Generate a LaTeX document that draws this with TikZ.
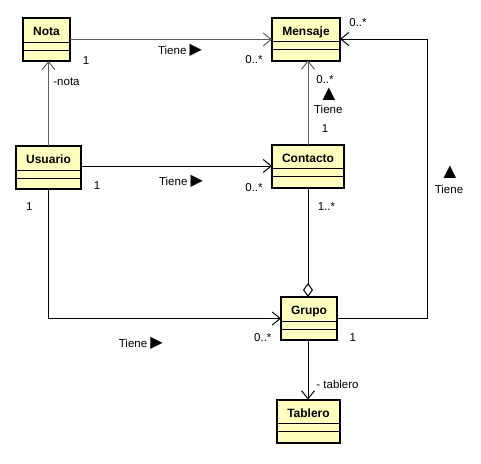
\documentclass[tikz,border=0pt]{standalone}
\usepackage{fontspec}
\setmainfont{Liberation Sans}
\newfontfamily\dejavu{DejaVu Sans}
\usetikzlibrary{arrows.meta}
\definecolor{umlfill}{HTML}{FFFFC0}
\definecolor{lgray}{HTML}{606060}
\newcommand\umlbox[5]{%
  \node[umlclass,minimum width=#4pt] (#1) at (#2,#3) {};
  \node[classname] (#1-t) at ([yshift=-17.5pt]#1.north) {#5};
  \draw[line width=1pt] ([yshift=-24pt]#1.north west) -- ([yshift=-24pt]#1.north east);
  \draw[line width=1pt] ([yshift=-32pt]#1.north west) -- ([yshift=-32pt]#1.north east);
}
\newcommand\rtri{{\dejavu\fontsize{16}{16}\selectfont ▶}}
\newcommand\utri{{\dejavu\fontsize{16.5}{16.5}\selectfont ▲}}
\begin{document}
\begin{tikzpicture}[x=1pt,y=-1pt,
  umlclass/.style={draw=black,line width=2pt,fill=umlfill,minimum height=43pt,inner sep=0pt,outer sep=0pt},
  classname/.style={anchor=base,inner sep=0pt,font=\fontsize{12}{14}\selectfont\bfseries},
  lbl/.style={anchor=base,inner sep=0pt,font=\fontsize{11.5}{13}\selectfont},
  assoc/.style={line width=1pt,-{Straight Barb[length=8pt,width=13pt,line width=1pt]}},
]
\useasboundingbox (0,0) rectangle (481,463);

\umlbox{nota}{46.5}{39.5}{47}{Nota}
\umlbox{mensaje}{306}{39}{68}{Mensaje}
\umlbox{usuario}{48.5}{167.5}{65}{Usuario}
\umlbox{contacto}{308}{166}{72}{Contacto}
\umlbox{grupo}{309}{318.5}{56}{Grupo}
\umlbox{tablero}{308.5}{421}{63}{Tablero}

\coordinate (rc) at (427.3,0);

% connectors
\draw[assoc,draw=lgray] (nota.east) -- (nota.east -| mensaje.west);
\draw[assoc,draw=lgray] (usuario.north) -- (usuario.north |- nota.south);
\draw[assoc] (contacto.west -| usuario.east) -- (contacto.west);
\draw[assoc,draw=lgray] (contacto.north) -- (contacto.north |- mensaje.south);
\draw[assoc] (grupo.east) -- (grupo.east -| rc) -- (rc |- mensaje.east) -- (mensaje.east);
\draw[line width=1pt,{Diamond[open,length=14pt,width=10pt,line width=1pt]}-] (contacto.south |- grupo.north) -- (contacto.south);
\draw[assoc] (usuario.south) |- (grupo.west);
\draw[assoc] (contacto.south |- grupo.south) -- (contacto.south |- tablero.north);

% labels
\node[lbl] (l1) at (86,64) {1};
\node[lbl] (l2) at (180,54) {Tiene \rtri};
\node[lbl] (l3) at (254,63) {0..*};
\node[lbl] (l4) at (66.5,85) {-nota};
\node[lbl] (l5) at (97,189) {1};
\node[lbl] (l6) at (181,185.7) {Tiene \rtri};
\node[lbl] (l7) at (254,191.5) {0..*};
\node[lbl] (l8) at (325,83) {0..*};
\node[lbl] (l9) at (329,98.5) {\utri};
\node[lbl] (l10) at (328.3,113.3) {Tiene};
\node[lbl] (l11) at (325,132) {1};
\node[lbl] (l12) at (358,26.7) {0..*};
\node[lbl] (l13) at (450,176.5) {\utri};
\node[lbl] (l14) at (449,193.3) {Tiene};
\node[lbl] (l15) at (352.7,341) {1};
\node[lbl] (l16) at (262.8,341) {0..*};
\node[lbl] (l17) at (326.5,210) {1..*};
\node[lbl] (l18) at (337.5,388.5) {- tablero};
\node[lbl] (l19) at (29.3,210.7) {1};
\node[lbl] (l20) at (140.8,347) {Tiene \rtri};
\end{tikzpicture}
\end{document}
